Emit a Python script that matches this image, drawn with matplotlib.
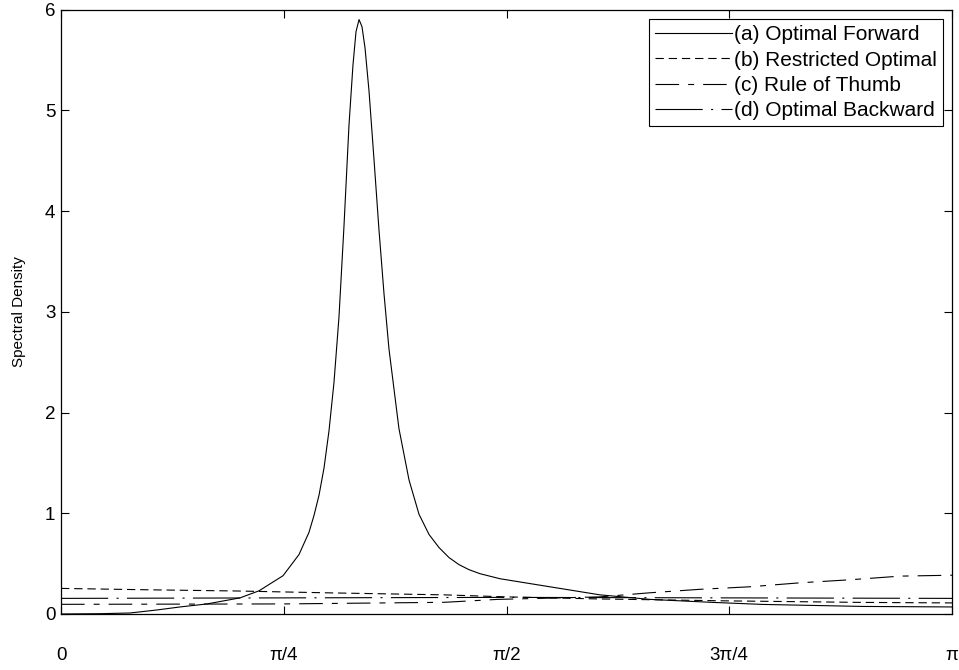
import numpy as np
import matplotlib
matplotlib.use("Agg")
import matplotlib.pyplot as plt

plt.rcParams['font.family'] = ['Liberation Sans', 'DejaVu Sans']
plt.rcParams['lines.scale_dashes'] = False

# frequency positions as fractions of pi
freq_a = [0.0, 0.0438, 0.0774, 0.1077, 0.1336, 0.1639, 0.2009, 0.2222, 0.2492,
          0.2671, 0.2783, 0.2840, 0.2896, 0.2952, 0.3008, 0.3064, 0.3120, 0.3176,
          0.3232, 0.3277, 0.3311, 0.3345, 0.3378, 0.3412, 0.3457, 0.3513, 0.3569,
          0.3625, 0.3681, 0.3793, 0.3906, 0.4018, 0.4130, 0.4242, 0.4355, 0.4467,
          0.4579, 0.4703, 0.4927, 0.5207, 0.5488, 0.6049, 0.6611, 0.7318, 0.7879,
          0.9001, 1.0]
dens_a = [0.0, 0.003, 0.01, 0.04, 0.07, 0.10, 0.16, 0.23, 0.38,
          0.59, 0.81, 0.98, 1.18, 1.45, 1.82, 2.30, 2.95, 3.85,
          4.85, 5.45, 5.78, 5.90, 5.83, 5.62, 5.19, 4.51, 3.81,
          3.18, 2.63, 1.84, 1.33, 0.99, 0.79, 0.66, 0.56, 0.49,
          0.44, 0.40, 0.35, 0.31, 0.27, 0.19, 0.145, 0.115, 0.095,
          0.075, 0.07]

freq_b = [0.0, 0.1, 0.2, 0.3, 0.43, 0.5, 0.6, 0.75, 0.9, 1.0]
dens_b = [0.254, 0.24, 0.228, 0.21, 0.19, 0.17, 0.15, 0.13, 0.115, 0.11]

freq_c = [0.0, 0.25, 0.43, 0.49, 0.605, 0.66, 0.717, 0.773, 0.83, 0.886, 0.942, 1.0]
dens_c = [0.096, 0.10, 0.116, 0.145, 0.17, 0.21, 0.245, 0.27, 0.31, 0.34, 0.376, 0.385]

freq_d = [0.0, 0.25, 0.5, 0.75, 1.0]
dens_d = [0.155, 0.16, 0.165, 0.16, 0.155]

labels = ['(a) Optimal Forward', '(b) Restricted Optimal',
          '(c) Rule of Thumb', '(d) Optimal Backward']
xtick_vals = [0, 0.25, 0.5, 0.75, 1.0]
xtick_labels = ['0', 'π/4', 'π/2', '3π/4', 'π']
ytick_vals = [0, 1, 2, 3, 4, 5, 6]

fig = plt.figure(figsize=(9.59, 6.70), dpi=100)
ax = fig.add_axes([61/959, 56/670, 891/959, 604.5/670])

lw = 0.8
ax.plot(np.array(freq_a)*np.pi, dens_a, color='black', lw=lw, label=labels[0])
ax.plot(np.array(freq_b)*np.pi, dens_b, color='black', lw=lw, dashes=(6, 3.5), label=labels[1])
ax.plot(np.array(freq_c)*np.pi, dens_c, color='black', lw=lw, dashes=(17, 6.5, 4.3, 6.5), label=labels[2])
ax.plot(np.array(freq_d)*np.pi, dens_d, color='black', lw=lw, dashes=(34, 6, 1.5, 6), label=labels[3])

ax.set_xlim(0, np.pi)
ax.set_ylim(0, 6)
ax.set_xticks(np.array(xtick_vals)*np.pi)
ax.set_xticklabels(xtick_labels)
ax.set_yticks(ytick_vals)
ax.tick_params(direction='in', length=6, width=0.8, top=True, right=True, labelsize=13.5)
ax.tick_params(axis='x', pad=24)
ax.tick_params(axis='y', pad=4)
for s in ax.spines.values():
    s.set_linewidth(0.9)
ax.set_ylabel('Spectral Density', fontsize=11, labelpad=14)

leg = ax.legend(loc='upper right', bbox_to_anchor=(0.99, 0.984), fontsize=15,
                handlelength=3.7, handletextpad=0.1, labelspacing=0.3,
                borderpad=0.3, borderaxespad=0, fancybox=False, framealpha=1,
                edgecolor='black')
leg.get_frame().set_linewidth(0.8)

fig.savefig('out.png', dpi=100)
